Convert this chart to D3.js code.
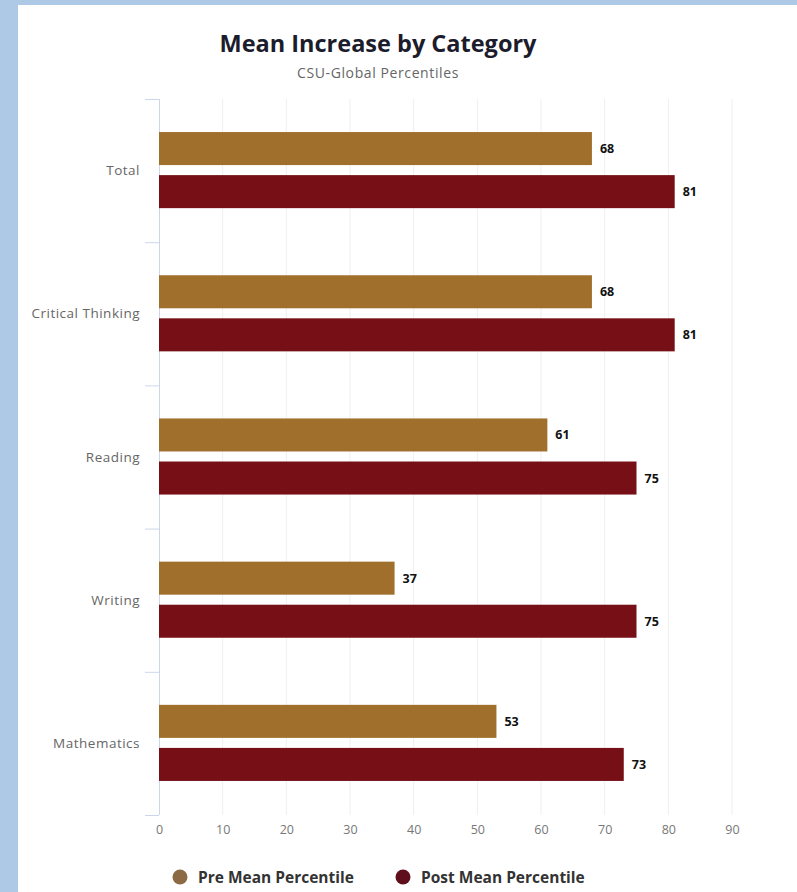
<!DOCTYPE html>
<html><head><meta charset="utf-8">
<script src="https://cdn.jsdelivr.net/npm/d3@7"></script>
<style>html,body{margin:0;padding:0;background:#adc9e5;}svg{display:block;}</style>
</head><body>
<script>
const categories = ["Total","Critical Thinking","Reading","Writing","Mathematics"];
const preValues = [68,68,61,37,53];
const postValues = [81,81,75,75,73];
const seriesNames = ["Pre Mean Percentile","Post Mean Percentile"];
const xTicks = [0,10,20,30,40,50,60,70,80,90];

const W=797,H=892;
const svg=d3.select("body").append("svg").attr("width",W).attr("height",H);
svg.append("rect").attr("x",0).attr("y",0).attr("width",W).attr("height",H).attr("fill","#adc9e5");
svg.append("rect").attr("x",18).attr("y",5).attr("width",W-18).attr("height",H-5).attr("fill","#ffffff");

const font="'Open Sans', sans-serif";
const x=d3.scaleLinear().domain([0,90]).range([159,732]);
const y=d3.scaleBand().domain(categories).range([99,815]).paddingInner(0).paddingOuter(0);
const bw=y.bandwidth();
const inner=d3.scaleBand().domain(seriesNames).range([bw*33/143,bw*109/143]).paddingInner(0.233).paddingOuter(0);
const colors=["#a06f2c","#761016"];
const legendColors=["#8c6a44","#5e0f1b"];

// gridlines
svg.append("g").selectAll("line").data(xTicks.slice(1)).join("line")
  .attr("x1",d=>x(d)).attr("x2",d=>x(d)).attr("y1",99).attr("y2",815)
  .attr("stroke","#efefef").attr("stroke-width",1);

// title
svg.append("text").attr("x",378).attr("y",52).attr("text-anchor","middle")
  .attr("font-family",font).attr("font-weight",700).attr("font-size",23.5).attr("fill","#1c1c2c")
  .text("Mean Increase by Category");
svg.append("text").attr("x",378).attr("y",78).attr("text-anchor","middle")
  .attr("font-family",font).attr("font-size",14).attr("letter-spacing",0.6).attr("fill","#666")
  .text("CSU-Global Percentiles");

// y axis
const yAxis=svg.append("g").attr("transform","translate(159,0)");
yAxis.append("line").attr("x1",0.5).attr("x2",0.5).attr("y1",99).attr("y2",815).attr("stroke","#ccd6eb");
const bounds=categories.map(c=>y(c)).concat([y.range()[1]]);
yAxis.selectAll("line.tk").data(bounds).join("line").attr("class","tk")
  .attr("x1",-14).attr("x2",0).attr("y1",d=>d+0.5).attr("y2",d=>d+0.5).attr("stroke","#ccd6eb");
yAxis.selectAll("text").data(categories).join("text")
  .attr("x",-19).attr("y",d=>y(d)+bw/2+4.5).attr("text-anchor","end")
  .attr("font-family",font).attr("font-size",13.5).attr("letter-spacing",0.5).attr("fill","#666").text(d=>d);

// x axis labels
const xAxis=d3.axisBottom(x).tickValues(xTicks).tickSize(0).tickPadding(0);
const gx=svg.append("g").attr("transform","translate(0,825)").call(xAxis);
gx.select(".domain").remove();
gx.selectAll("text").attr("font-family",font).attr("font-size",12.5).attr("fill","#777").attr("dy","0.71em");

// bars
const data=categories.map((c,i)=>({cat:c,vals:[preValues[i],postValues[i]]}));
const groups=svg.append("g").selectAll("g").data(data).join("g")
  .attr("transform",d=>`translate(0,${y(d.cat)})`);
groups.selectAll("rect").data(d=>d.vals.map((v,j)=>({v,j}))).join("rect")
  .attr("x",x(0)).attr("y",d=>inner(seriesNames[d.j])).attr("width",d=>x(d.v)-x(0))
  .attr("height",inner.bandwidth()).attr("fill",d=>colors[d.j]);
groups.selectAll("text").data(d=>d.vals.map((v,j)=>({v,j}))).join("text")
  .attr("x",d=>x(d.v)+8).attr("y",d=>inner(seriesNames[d.j])+inner.bandwidth()/2+4.5)
  .attr("font-family",font).attr("font-weight",700).attr("font-size",12.5).attr("fill","#111").text(d=>d.v);

// legend
const legX=[180,403];
const lg=svg.append("g").selectAll("g").data(seriesNames).join("g")
  .attr("transform",(d,i)=>`translate(${legX[i]},877)`);
lg.append("circle").attr("r",7.5).attr("fill",(d,i)=>legendColors[i]);
lg.append("text").attr("x",18).attr("y",5.5).attr("font-family",font).attr("font-weight",700)
  .attr("font-size",15.5).attr("fill","#333").text(d=>d);
</script>
</body></html>
